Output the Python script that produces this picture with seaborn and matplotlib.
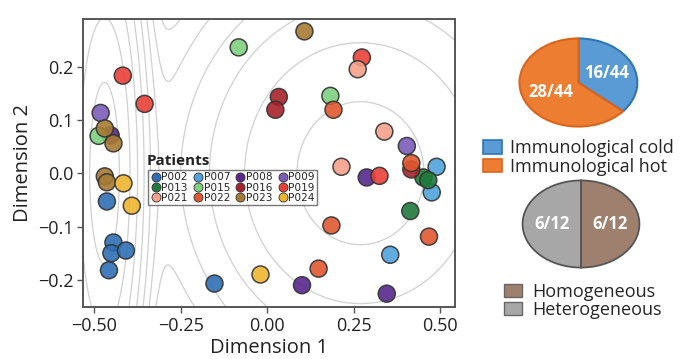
import numpy as np
import pandas as pd
import matplotlib
matplotlib.use("Agg")
import matplotlib.pyplot as plt
import seaborn as sns
from matplotlib.patches import Patch
from matplotlib.lines import Line2D

# ---------------- data ----------------
patients = ["P002", "P007", "P008", "P009", "P013", "P015",
            "P016", "P019", "P021", "P022", "P023", "P024"]
patient_colors = ["#2f6fb5", "#4fa3dc", "#58288c", "#7b5cb8", "#1f7a3c", "#7fd07f",
                  "#a82229", "#ea4038", "#f5a08a", "#e0582f", "#a67b34", "#f0b52e"]

point_patient = ["P002"] * 6 + ["P007"] * 3 + ["P008"] * 4 + ["P009"] * 2 + \
                ["P013"] * 3 + ["P015"] * 3 + ["P016"] * 3 + ["P019"] * 4 + \
                ["P021"] * 3 + ["P022"] * 5 + ["P023"] * 5 + ["P024"] * 3
dim1 = [-0.463, -0.444, -0.450, -0.408, -0.457, -0.152,      # P002
        0.490, 0.476, 0.356,                                  # P007
        -0.452, 0.288, 0.101, 0.346,                          # P008
        -0.481, 0.404,                                        # P009
        0.452, 0.466, 0.414,                                  # P013
        -0.082, 0.183, -0.487,                                # P015
        0.034, 0.024, 0.417,                                  # P016
        -0.417, -0.354, 0.274, 0.325,                         # P019
        0.262, 0.339, 0.215,                                  # P021
        0.192, 0.417, 0.186, 0.468, 0.149,                    # P022
        0.108, -0.469, -0.444, -0.469, -0.463,                # P023
        -0.415, -0.391, -0.019]                               # P024
dim2 = [-0.053, -0.130, -0.150, -0.145, -0.182, -0.207,
        0.012, -0.036, -0.153,
        0.071, -0.008, -0.210, -0.226,
        0.113, 0.051,
        -0.008, -0.013, -0.071,
        0.236, 0.145, 0.070,
        0.143, 0.119, 0.007,
        0.183, 0.130, 0.217, -0.005,
        0.195, 0.078, 0.012,
        0.119, 0.019, -0.098, -0.119, -0.179,
        0.266, 0.084, 0.056, -0.006, -0.017,
        -0.019, -0.061, -0.190]

x_ticks = [-0.50, -0.25, 0.00, 0.25, 0.50]
y_ticks = [-0.2, -0.1, 0.0, 0.1, 0.2]

immune_labels = ["Immunological cold", "Immunological hot"]
immune_counts = [16, 28]
immune_colors = ["#5b9bd5", "#ed7d31"]
immune_edges = ["#2e75b6", "#d9651c"]

het_labels = ["Homogeneous", "Heterogeneous"]
het_counts = [6, 6]
het_colors = ["#9f7f6e", "#a7a7a7"]

# ---------------- figure ----------------
sns.set_style("white")
plt.rcParams["font.family"] = ["Open Sans", "DejaVu Sans"]
fig = plt.figure(figsize=(6.9, 3.59), dpi=100)

ax = fig.add_axes([0.1203, 0.1448, 0.539, 0.802])

# background contour (density-like surface)
gx = np.linspace(-0.6, 0.6, 400)
gy = np.linspace(-0.3, 0.32, 300)
GX, GY = np.meshgrid(gx, gy)
d1 = 0.45 * np.exp(-0.5 * (((GX + 0.47) / 0.055) ** 2 + (GY / 0.22) ** 2)) / (0.055 * 0.22)
d2 = 0.55 * np.exp(-0.5 * (((GX - 0.27) / 0.26) ** 2 + (GY / 0.19) ** 2)) / (0.26 * 0.19)
Z = np.log(d1 + d2 + 1e-9)
ax.contour(GX, GY, Z, levels=np.linspace(Z.max() - 9, Z.max() - 0.3, 16),
           colors="#d0d0d0", linewidths=0.9, linestyles="solid", zorder=0)

df = pd.DataFrame({"Dimension 1": dim1, "Dimension 2": dim2, "Patient": point_patient})
palette = dict(zip(patients, patient_colors))
sns.scatterplot(data=df, x="Dimension 1", y="Dimension 2", hue="Patient",
                hue_order=patients, palette=palette, s=150, alpha=0.9,
                edgecolor="#333333", linewidth=1.1, legend=False, ax=ax, zorder=3)

ax.set_xlim(-0.532, 0.543)
ax.set_ylim(-0.251, 0.289)
ax.set_xticks(x_ticks)
ax.set_xticklabels([f"{v:.2f}".replace("-", "\u2212") for v in x_ticks])
ax.set_yticks(y_ticks)
ax.set_yticklabels([f"{v:.1f}".replace("-", "\u2212") for v in y_ticks])
ax.tick_params(axis="both", labelsize=13, length=4, width=1, color="#555555",
               direction="out", bottom=True, left=True, colors="#222222", pad=3)
for sp in ax.spines.values():
    sp.set_color("#555555")
    sp.set_linewidth(1.4)
ax.set_xlabel("Dimension 1", fontsize=14.5, color="#222222", labelpad=2)
ax.set_ylabel("Dimension 2", fontsize=14.5, color="#222222", labelpad=3)

# patients legend (row-major ordering in a 4-column legend)
ncol = 4
nrow = 3
order = [r * ncol + c for c in range(ncol) for r in range(nrow)]
handles = [Line2D([0], [0], marker="o", linestyle="", markersize=6.5,
                  markerfacecolor=patient_colors[i], markeredgecolor="#333333",
                  markeredgewidth=0.6) for i in order]
labels = [patients[i] for i in order]
leg = ax.legend(handles, labels, ncol=ncol, loc="upper left",
                bbox_to_anchor=(0.175, 0.475),
                prop={"family": "DejaVu Sans", "size": 7.6}, frameon=True,
                handletextpad=0.0, columnspacing=0.45, labelspacing=0.02,
                borderpad=0.2, handlelength=1.05, handleheight=0.6,
                fancybox=False, borderaxespad=0)
leg.get_frame().set_edgecolor("#555555")
leg.get_frame().set_linewidth(1.0)
ax.text(0.172, 0.482, "Patients", transform=ax.transAxes, fontsize=11,
        fontweight="bold", ha="left", va="bottom", color="#222222")

# pie 1
pax1 = fig.add_axes([0.752, 0.6462, 0.1725, 0.2479])
w1, t1, a1 = pax1.pie(immune_counts, colors=immune_colors, startangle=90,
                      counterclock=False, radius=1,
                      autopct=lambda p: f"{int(round(p * sum(immune_counts) / 100))}/{sum(immune_counts)}",
                      pctdistance=0.52,
                      wedgeprops=dict(linewidth=1.5),
                      textprops=dict(color="white", fontsize=12, fontweight="bold"))
for w, ec in zip(w1, immune_edges):
    w.set_edgecolor(ec)
pax1.set_aspect("auto")
pax1.set_xlim(-1.01, 1.01)
pax1.set_ylim(-1.01, 1.01)

# pie 2
pax2 = fig.add_axes([0.7565, 0.2535, 0.171, 0.2451])
w2, t2, a2 = pax2.pie(het_counts, colors=het_colors, startangle=90,
                      counterclock=False, radius=1,
                      autopct=lambda p: f"{int(round(p * sum(het_counts) / 100))}/{sum(het_counts)}",
                      pctdistance=0.5,
                      wedgeprops=dict(linewidth=1.3, edgecolor="#555555"),
                      textprops=dict(color="white", fontsize=12, fontweight="bold"))
pax2.set_aspect("auto")
pax2.set_xlim(-1.01, 1.01)
pax2.set_ylim(-1.01, 1.01)

# pie legends
h1 = [Patch(facecolor=c, edgecolor=e, linewidth=1.2) for c, e in zip(immune_colors, immune_edges)]
fig.legend(h1, immune_labels, loc="upper left", bbox_to_anchor=(0.69, 0.632),
           frameon=False, fontsize=13, handlelength=1.05, handleheight=0.75,
           handletextpad=0.45, labelspacing=0.02, borderaxespad=0)
h2 = [Patch(facecolor=c, edgecolor="#666666", linewidth=1.0) for c in het_colors]
fig.legend(h2, het_labels, loc="upper left", bbox_to_anchor=(0.72, 0.232),
           frameon=False, fontsize=13, handlelength=1.0, handleheight=0.7,
           handletextpad=0.55, labelspacing=0.0, borderaxespad=0)

fig.savefig("out.png", dpi=100)
